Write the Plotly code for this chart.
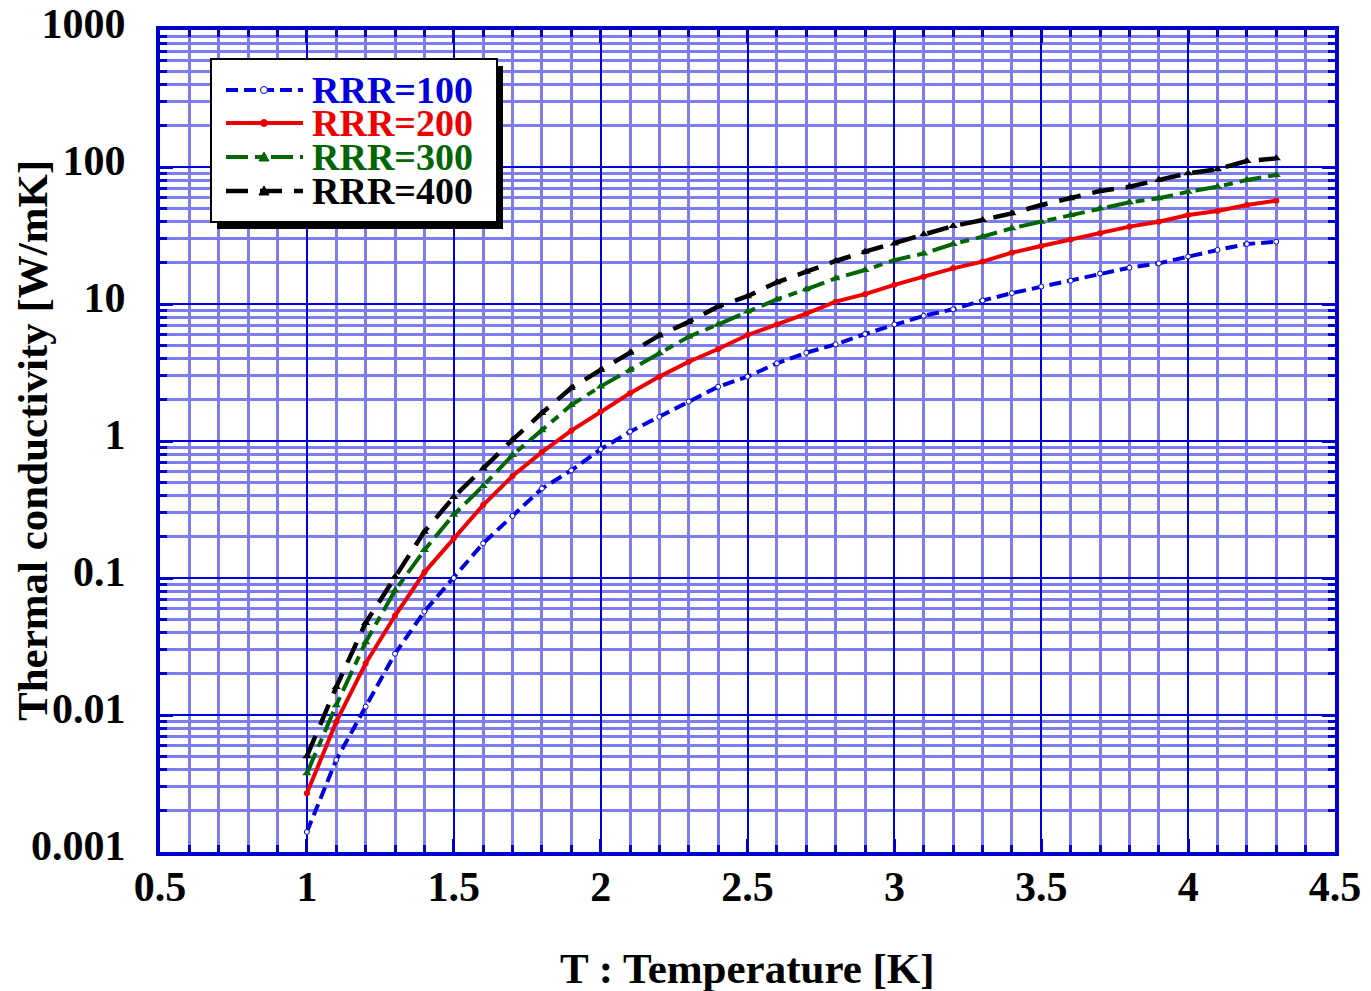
import plotly.graph_objects as go

# ---------------- data ----------------
T = [1.0, 1.1, 1.2, 1.3, 1.4, 1.5, 1.6, 1.7, 1.8, 1.9,
     2.0, 2.1, 2.2, 2.3, 2.4, 2.5, 2.6, 2.7, 2.8, 2.9,
     3.0, 3.1, 3.2, 3.3, 3.4, 3.5, 3.6, 3.7, 3.8, 3.9,
     4.0, 4.1, 4.2, 4.3]

k_rrr100 = [0.0014, 0.0047, 0.0115, 0.028, 0.057, 0.100, 0.179, 0.284, 0.45, 0.61,
            0.87, 1.17, 1.50, 1.94, 2.49, 2.95, 3.69, 4.41, 5.08, 6.04,
            7.1, 8.2, 9.15, 10.6, 12.0, 13.4, 14.8, 16.7, 18.4, 19.8,
            22.2, 24.8, 27.4, 28.5]
k_rrr200 = [0.00268, 0.0089, 0.0238, 0.053, 0.110, 0.195, 0.341, 0.555, 0.83, 1.19,
            1.64, 2.23, 2.95, 3.79, 4.69, 5.94, 7.1, 8.5, 10.4, 11.8,
            13.8, 15.8, 18.2, 20.4, 23.7, 26.5, 29.6, 32.8, 36.7, 39.9,
            44.6, 47.7, 52.8, 56.8]
k_rrr300 = [0.00375, 0.0118, 0.034, 0.081, 0.16, 0.29, 0.47, 0.79, 1.20, 1.83,
            2.5, 3.30, 4.37, 5.77, 7.1, 8.8, 10.8, 12.8, 15.4, 17.7,
            20.9, 23.4, 27.4, 31.0, 35.7, 39.9, 44.6, 49.9, 55.2, 59.1,
            66.0, 71.8, 80.4, 87.5]
k_rrr400 = [0.0050, 0.016, 0.047, 0.102, 0.218, 0.39, 0.63, 1.02, 1.6, 2.44,
            3.3, 4.4, 5.9, 7.4, 9.6, 11.4, 14.4, 17.2, 20.6, 24.1,
            27.7, 32.3, 37.1, 41.0, 45.9, 52.8, 59.1, 66.8, 71.8, 80.4,
            90.0, 96.3, 110.7, 115.6]

series_names = ["RRR=100", "RRR=200", "RRR=300", "RRR=400"]
y_tick_vals = [0.001, 0.01, 0.1, 1, 10, 100, 1000]
y_tick_text = ["0.001", "0.01", "0.1", "1", "10", "100", "1000"]
x_title = "T : Temperature [K]"
y_title = "Thermal conductivity [W/mK]"

# ---------------- styles ----------------
W, H = 1371, 991
L, R, TOP, BOT = 160, 1335, 30, 852
FONT = "Liberation Serif, Times New Roman, serif"
BLUE = "#0000dd"
RED = "#ee0000"
GREEN = "#006600"
BLACK = "#000000"
AXIS = "#0000cc"
MINOR = "#7d7df0"

styles = [
    dict(color=BLUE, dash="12px,6px", width=4, msym="circle-open",
         marker=dict(symbol="circle", size=5, color="white", line=dict(color=BLUE, width=1))),
    dict(color=RED, dash="solid", width=4, msym="circle",
         marker=dict(symbol="circle", size=6, color=RED)),
    dict(color=GREEN, dash="22px,7px,9px,7px", width=4, msym="triangle",
         marker=dict(symbol="triangle-up", size=8, color=GREEN)),
    dict(color=BLACK, dash="22px,12px", width=4.5, msym="triangle",
         marker=dict(symbol="triangle-up", size=8, color=BLACK)),
]


def px(xp):
    return (xp - L) / (R - L)


def py(yp):
    return (BOT - yp) / (BOT - TOP)


fig = go.Figure()
for name, vals, st in zip(series_names, [k_rrr100, k_rrr200, k_rrr300, k_rrr400], styles):
    fig.add_trace(go.Scatter(
        x=T, y=vals, mode="lines+markers", name=name,
        line=dict(color=st["color"], dash=st["dash"], width=st["width"]),
        marker=st["marker"], showlegend=False))

minor_y = [m * 10 ** k for k in range(-3, 3) for m in range(2, 10)]

fig.update_layout(
    width=W, height=H,
    margin=dict(l=L, r=W - R, t=TOP, b=H - BOT, autoexpand=False),
    paper_bgcolor="white", plot_bgcolor="white",
    font=dict(family=FONT, size=42, color="black", weight="bold"),
    showlegend=False,
    xaxis=dict(
        range=[0.5, 4.5], dtick=0.5, tick0=0.5, automargin=False,
        showgrid=True, gridcolor=BLUE, gridwidth=2,
        showline=True, linecolor=AXIS, linewidth=4, mirror="allticks",
        ticks="inside", ticklen=13, tickwidth=3, tickcolor=AXIS,
        ticklabelstandoff=-5,
        tickfont=dict(family=FONT, size=42, color="black", weight="bold"),
        zeroline=False,
        minor=dict(dtick=0.1, tick0=0.5, showgrid=True, gridcolor=MINOR, gridwidth=3,
                   ticks="inside", ticklen=7, tickwidth=3, tickcolor=AXIS),
    ),
    yaxis=dict(
        type="log", range=[-3, 3], automargin=False,
        tickmode="array", tickvals=y_tick_vals, ticktext=y_tick_text,
        showgrid=True, gridcolor=BLUE, gridwidth=2,
        showline=True, linecolor=AXIS, linewidth=4, mirror="allticks",
        ticks="inside", ticklen=13, tickwidth=3, tickcolor=AXIS,
        ticklabelstandoff=22, ticklabelshift=-7,
        tickfont=dict(family=FONT, size=42, color="black", weight="bold"),
        zeroline=False,
        minor=dict(tickmode="array", tickvals=minor_y, showgrid=True, gridcolor=MINOR,
                   gridwidth=3, ticks="inside", ticklen=7, tickwidth=3, tickcolor=AXIS),
    ),
)

# legend box with drop shadow
fig.add_shape(type="rect", xref="paper", yref="paper",
              x0=px(217), x1=px(503), y0=py(229), y1=py(66),
              fillcolor="black", line=dict(width=0), layer="above")
fig.add_shape(type="rect", xref="paper", yref="paper",
              x0=px(211), x1=px(497), y0=py(222), y1=py(59),
              fillcolor="white", line=dict(color="black", width=2), layer="above")

# legend samples
row_y = [90, 123, 157, 191]
for name, st, ry in zip(series_names, styles, row_y):
    fig.add_shape(type="line", xref="paper", yref="paper",
                  x0=px(226), x1=px(303), y0=py(ry), y1=py(ry),
                  line=dict(color=st["color"], dash=st["dash"], width=st["width"]),
                  layer="above")
    cx, cy = 264, ry
    if st["msym"].startswith("circle"):
        r = 3.5
        fig.add_shape(type="circle", xref="paper", yref="paper",
                      x0=px(cx - r), x1=px(cx + r), y0=py(cy + r), y1=py(cy - r),
                      fillcolor="white" if st["msym"] == "circle-open" else st["color"],
                      line=dict(color=st["color"], width=1), layer="above")
    else:
        s = 5
        path = "M {:.5f},{:.5f} L {:.5f},{:.5f} L {:.5f},{:.5f} Z".format(
            px(cx), py(cy - s), px(cx - s), py(cy + s * 0.8), px(cx + s), py(cy + s * 0.8))
        fig.add_shape(type="path", xref="paper", yref="paper", path=path,
                      fillcolor=st["color"], line=dict(color=st["color"], width=1),
                      layer="above")
    fig.add_annotation(xref="paper", yref="paper", x=px(310), y=py(ry),
                       xanchor="left", yanchor="middle", showarrow=False,
                       text=name, font=dict(family=FONT, size=38, color=st["color"], weight="bold"))

# axis titles
fig.add_annotation(xref="paper", yref="paper", x=0.5, y=py(968),
                   xanchor="center", yanchor="middle", showarrow=False,
                   text=x_title, font=dict(family=FONT, size=43, color="black", weight="bold"))
fig.add_annotation(xref="paper", yref="paper", x=px(32), y=0.5,
                   xanchor="center", yanchor="middle", showarrow=False, textangle=-90,
                   text=y_title, font=dict(family=FONT, size=43, color="black", weight="bold"))

fig.write_html("out.html")
